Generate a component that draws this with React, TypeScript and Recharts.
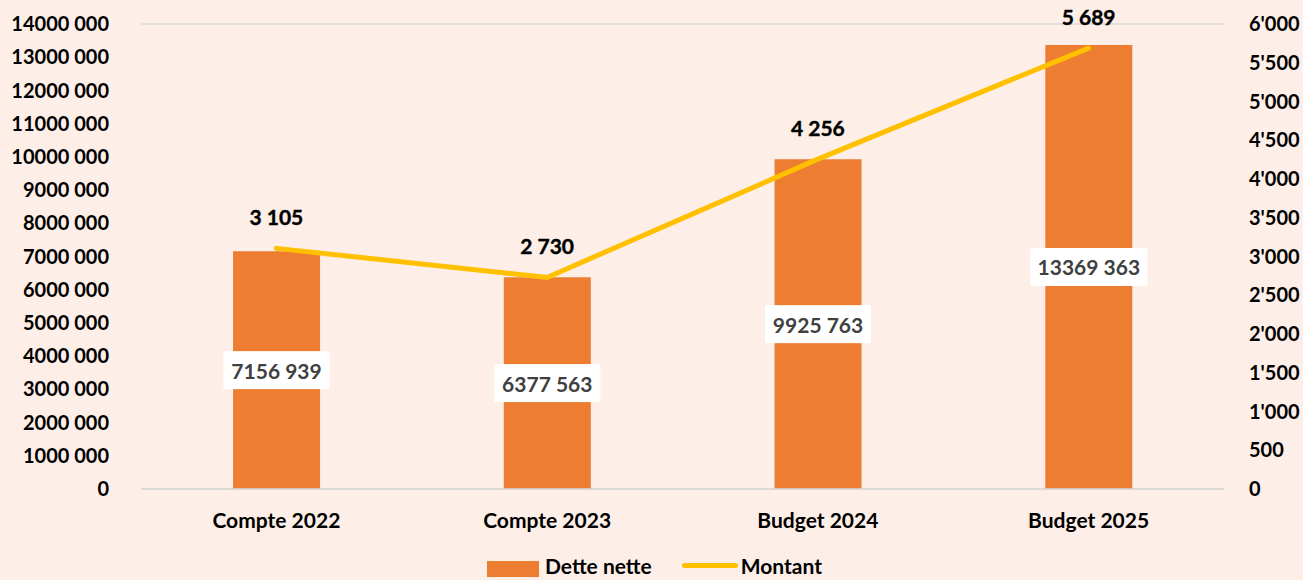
import React from "react";
import {
  ComposedChart,
  Bar,
  Line,
  XAxis,
  YAxis,
  CartesianGrid,
  LabelList,
  Legend,
} from "recharts";

const categories = ["Compte 2022", "Compte 2023", "Budget 2024", "Budget 2025"];
const detteNette = [7156939, 6377563, 9925763, 13369363];
const montant = [3105, 2730, 4256, 5689];
const leftTicks = [0, 1000000, 2000000, 3000000, 4000000, 5000000, 6000000, 7000000, 8000000, 9000000, 10000000, 11000000, 12000000, 13000000, 14000000];
const rightTicks = [0, 500, 1000, 1500, 2000, 2500, 3000, 3500, 4000, 4500, 5000, 5500, 6000];

const data = categories.map((c, i) => ({ name: c, dette: detteNette[i], montant: montant[i] }));

const FONT = "Lato, 'Open Sans', sans-serif";
const BG = "#FDEFE7";
const ORANGE = "#ED7D31";
const GOLD = "#FFC000";

const fmtLeft = (v: number) => {
  if (v === 0) return "0";
  const th = Math.floor(v / 1000);
  const rest = String(v % 1000).padStart(3, "0");
  return `${th} ${rest}`;
};
const fmtRight = (v: number) => {
  if (v < 1000) return String(v);
  const th = Math.floor(v / 1000);
  const rest = String(v % 1000).padStart(3, "0");
  return `${th}'${rest}`;
};
const fmtSpace = (v: number) => {
  const th = Math.floor(v / 1000);
  const rest = String(v % 1000).padStart(3, "0");
  return `${th} ${rest}`;
};

const BarLabel = (props: any) => {
  const { x, y, width, height, value } = props;
  const cx = x + width / 2;
  const cy = y + height / 2;
  const text = fmtSpace(value);
  const w = text.length * 11 + 18;
  const h = 38;
  return (
    <g>
      <rect x={cx - w / 2} y={cy - h / 2} width={w} height={h} fill="#FFFFFF" />
      <text
        x={cx}
        y={cy}
        textAnchor="middle"
        dominantBaseline="central"
        fontFamily={FONT}
        fontWeight={700}
        fontSize={21}
        fill="#404040"
      >
        {text}
      </text>
    </g>
  );
};

const LineLabel = (props: any) => {
  const { x, y, value } = props;
  return (
    <text
      x={x}
      y={y - 32}
      textAnchor="middle"
      dominantBaseline="central"
      fontFamily={FONT}
      fontWeight={700}
      fontSize={21}
      fill="#000000"
      stroke="#000000"
      strokeWidth={0.4}
    >
      {fmtSpace(value)}
    </text>
  );
};

const LegendContent = () => (
  <div
    style={{
      display: "flex",
      justifyContent: "center",
      alignItems: "center",
      fontFamily: FONT,
      fontWeight: 700,
      fontSize: 21,
      color: "#000",
      height: 26,
      paddingLeft: 6,
    }}
  >
    <span style={{ display: "inline-block", width: 52, height: 16, background: ORANGE, marginRight: 6, marginTop: 8 }} />
    <span style={{ marginRight: 30 }}>Dette nette</span>
    <span style={{ display: "inline-block", width: 56, height: 5, borderRadius: 3, background: GOLD, marginRight: 3 }} />
    <span>Montant</span>
  </div>
);

export default function App() {
  return (
    <div style={{ position: "absolute", left: 0, top: 0, width: 1303, height: 580, background: BG, overflow: "hidden" }}>
      <ComposedChart
        width={1303}
        height={580}
        data={data}
        margin={{ top: 24, right: 0, left: 0, bottom: 0 }}
        barCategoryGap="34%"
      >
        <CartesianGrid vertical={false} stroke="#D9D9D9" strokeWidth={1.5} />
        <XAxis
          dataKey="name"
          axisLine={{ stroke: "#D9D9D9", strokeWidth: 1.5 }}
          tickLine={false}
          tick={{ fontFamily: FONT, fontWeight: 700, fontSize: 21, fill: "#000" }}
          tickMargin={18}
          height={64}
        />
        <YAxis
          yAxisId="left"
          domain={[0, 14000000]}
          ticks={leftTicks}
          interval={0}
          width={141}
          axisLine={false}
          tickLine={false}
          tickMargin={26}
          tickFormatter={fmtLeft}
          tick={{ fontFamily: FONT, fontWeight: 700, fontSize: 20, fill: "#000" }}
        />
        <YAxis
          yAxisId="right"
          orientation="right"
          domain={[0, 6000]}
          ticks={rightTicks}
          interval={0}
          width={79}
          axisLine={false}
          tickLine={false}
          tickMargin={19}
          tickFormatter={fmtRight}
          tick={{ fontFamily: FONT, fontWeight: 700, fontSize: 20, fill: "#000" }}
        />
        <Bar yAxisId="left" dataKey="dette" name="Dette nette" fill={ORANGE} isAnimationActive={false}>
          <LabelList dataKey="dette" content={<BarLabel />} />
        </Bar>
        <Line
          yAxisId="right"
          type="linear"
          dataKey="montant"
          name="Montant"
          stroke={GOLD}
          strokeWidth={5}
          strokeLinecap="round"
          dot={false}
          isAnimationActive={false}
        >
          <LabelList dataKey="montant" content={<LineLabel />} />
        </Line>
        <Legend
          verticalAlign="bottom"
          height={27}
          content={<LegendContent />}
          wrapperStyle={{ top: 552, bottom: "auto" }}
        />
      </ComposedChart>
    </div>
  );
}
